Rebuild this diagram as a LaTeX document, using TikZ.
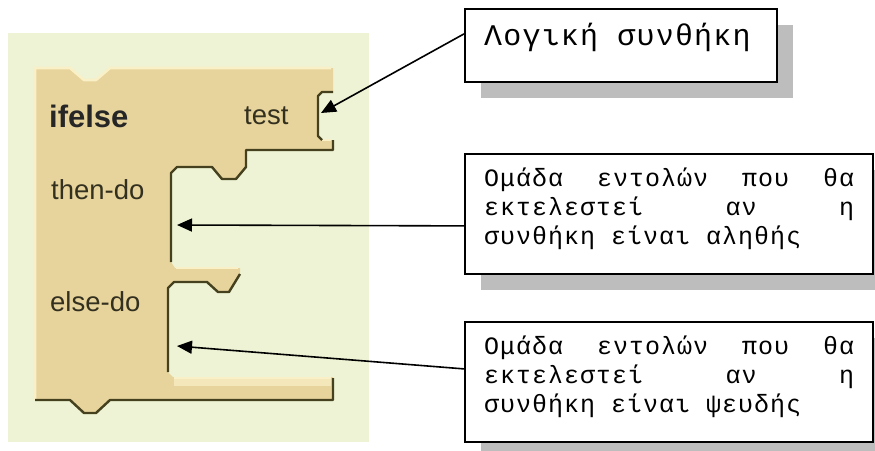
\documentclass[tikz,border=0pt]{standalone}
\usepackage{fontspec}
\setmainfont{Liberation Sans}
\newfontfamily\greekmono{Liberation Mono}[LetterSpace=4]
\usetikzlibrary{arrows.meta,shadows}

\definecolor{bggreen}{HTML}{EDF3D4}
\definecolor{blocktan}{HTML}{E7D49C}
\definecolor{edgedark}{HTML}{45401E}
\definecolor{edgelight}{HTML}{FAF0C8}
\definecolor{shadowgray}{HTML}{BDBDBD}
\definecolor{labelink}{HTML}{33301F}

\begin{document}
\begin{tikzpicture}[x=1pt,y=-1pt,
  callout/.style={draw=black, line width=1.8pt, fill=white, inner sep=0pt,
    anchor=north west,
    drop shadow={shadow xshift=16pt, shadow yshift=-16pt, fill=shadowgray, opacity=1}},
  calltext/.style={anchor=west, inner sep=0pt, align=left, text=black},
  blocklabel/.style={anchor=west, inner sep=0pt, text=labelink,
    font=\fontsize{27.5}{30}\selectfont},
  pointer/.style={line width=1.6pt, -{Triangle[length=15pt,width=13pt]}},
  darkedge/.style={draw=edgedark, line width=2.4pt, line join=round},
  lightedge/.style={draw=edgelight, line width=2.6pt, line join=round}]

\useasboundingbox (0,0) rectangle (875,450);

% workspace backdrop
\fill[bggreen] (8,33) rectangle (369,442);

% ifelse block body
\fill[blocktan]
  (35,68) -- (70,68) -- (84,80) -- (96,80) -- (110,68)
  -- (333,68) -- (333,92) -- (322,92) -- (318,96) -- (318,136) -- (322,140)
  -- (333,140) -- (333,150) -- (246,150) -- (246,167)
  -- (236,179) -- (222,179) -- (212,167)
  -- (177,167) -- (171,173) -- (171,262) -- (175,268)
  -- (240,268) -- (240,273) -- (229,292) -- (218,292) -- (207,282)
  -- (174,282) -- (168,288) -- (168,372) -- (173,377)
  -- (333,377) -- (333,400)
  -- (110,400) -- (96,413) -- (84,413) -- (70,400)
  -- (35,400) -- cycle;

% highlights on the upper edges
\draw[lightedge] (35,400) -- (35,68) -- (70,68) -- (84,80) -- (96,80) -- (110,68) -- (331,68);
\draw[lightedge] (322,140) -- (331,140);
\draw[lightedge] (176,268) -- (238,268);
\draw[lightedge] (174,378) -- (331,378);
\fill[edgelight!70!blocktan] (174,379) rectangle (331,386);

% shaded lower and inner edges
\draw[darkedge] (333,92) -- (322,92) -- (318,96) -- (318,136) -- (322,140);
\draw[darkedge] (333,140) -- (333,150) -- (246,150) -- (246,167)
  -- (236,179) -- (222,179) -- (212,167)
  -- (177,167) -- (171,173) -- (171,262);
\draw[darkedge] (240,274) -- (229,292) -- (218,292) -- (207,282)
  -- (174,282) -- (168,288) -- (168,372);
\draw[darkedge] (333,378) -- (333,400) -- (110,400) -- (96,413) -- (84,413)
  -- (70,400) -- (35,400);

% block labels
\node[blocklabel, font=\bfseries\fontsize{31}{33}\selectfont, text=black!85] (iflabel) at (49,116) {ifelse};
\node[blocklabel] (testlabel) at (244,116) {test};
\node[blocklabel] (thenlabel) at (51,190) {then-do};
\node[blocklabel] (elselabel) at (50,302) {else-do};

% explanation boxes
\node[callout, minimum width=312pt, minimum height=73pt] (cond) at (464,8) {};
\node[calltext, font=\greekmono\fontsize{30}{32}\selectfont] (condtext) at (484,37) {Λογική συνθήκη};

\node[callout, minimum width=408pt, minimum height=120pt] (thenbox) at (464,153) {};
\node[calltext, font=\greekmono\fontsize{25}{29}\selectfont] (thentext) at (484,209)
  {\makebox[370pt][s]{Ομάδα\hfill εντολών\hfill που\hfill θα}\\
   \makebox[370pt][s]{εκτελεστεί\hfill αν\hfill η}\\
   συνθήκη είναι αληθής};

\node[callout, minimum width=408pt, minimum height=120pt] (elsebox) at (464,321) {};
\node[calltext, font=\greekmono\fontsize{25}{29}\selectfont] (elsetext) at (484,377)
  {\makebox[370pt][s]{Ομάδα\hfill εντολών\hfill που\hfill θα}\\
   \makebox[370pt][s]{εκτελεστεί\hfill αν\hfill η}\\
   συνθήκη είναι ψευδής};

% pointers into the block's sockets
\coordinate (testsock) at (321,113);
\coordinate (thensock) at (177,225);
\coordinate (elsesock) at (177,346);
\draw[pointer] ([yshift=11.5pt]cond.west) -- (testsock);
\draw[pointer] ([yshift=-12pt]thenbox.west) -- (thensock);
\draw[pointer] ([yshift=13pt]elsebox.west) -- (elsesock);

\end{tikzpicture}
\end{document}
